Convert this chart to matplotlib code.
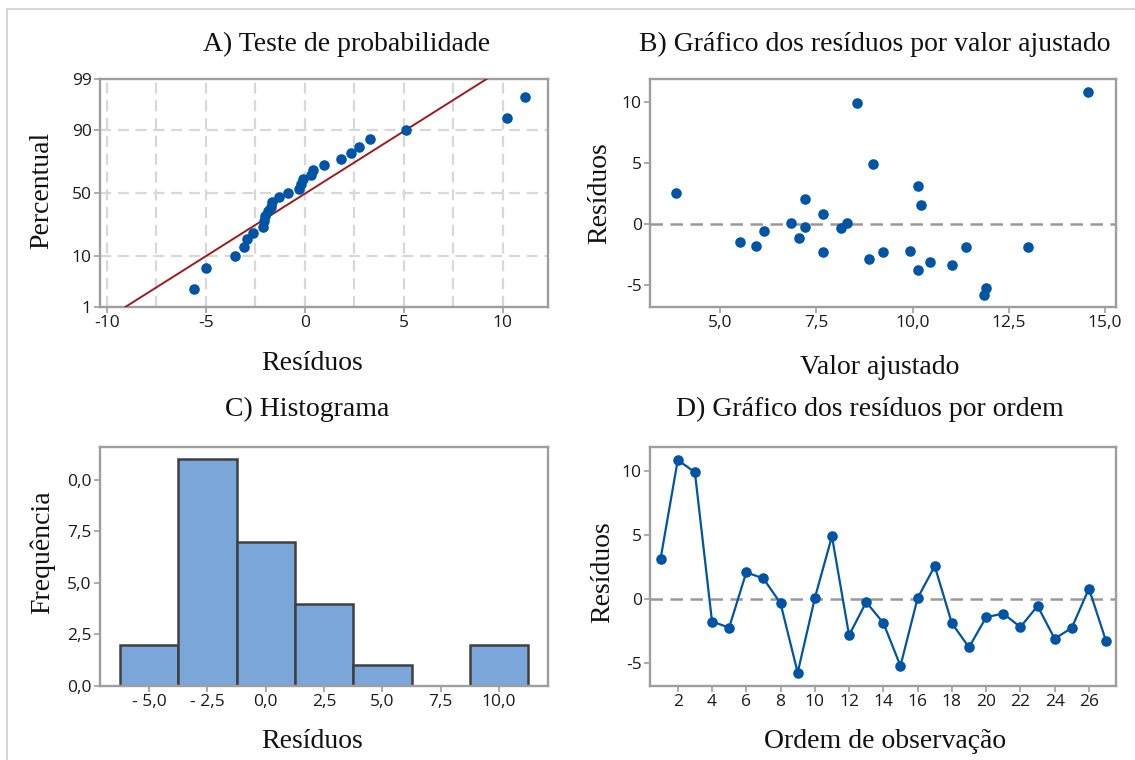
import numpy as np
import matplotlib
matplotlib.use("Agg")
import matplotlib.pyplot as plt
from matplotlib.lines import Line2D
from statistics import NormalDist

# ---------------- data ----------------
# A) residuals as placed on the normal probability plot
prob_residuals = [-5.6, -5.0, -3.5, -3.09, -2.91, -2.6, -2.09, -2.04, -2.0,
                  -1.84, -1.69, -1.64, -1.29, -0.87, -0.27, -0.18, -0.09,
                  0.31, 0.4, 1.0, 1.82, 2.33, 2.73, 3.31, 5.13, 10.24, 11.13]

# B / D) residuals in observation order and their fitted values
observation = list(range(1, 28))
residuals = [3.16, 10.85, 9.9, -1.76, -2.23, 2.08, 1.61, -0.34, -5.75,
             0.07, 4.9, -2.83, -0.24, -1.87, -5.22, 0.07, 2.57, -1.89,
             -3.77, -1.42, -1.13, -2.19, -0.54, -3.1, -2.25, 0.82, -3.29]
fitted = [10.15, 14.56, 8.56, 5.92, 7.67, 7.21, 10.21, 8.14, 11.86,
          6.85, 8.97, 8.86, 7.21, 11.39, 11.92, 8.29, 3.84, 12.99,
          10.15, 5.50, 7.04, 9.94, 6.13, 10.46, 9.22, 7.67, 11.03]

# C) histogram
bin_centers = [-5.0, -2.5, 0.0, 2.5, 5.0, 7.5, 10.0]
bin_counts = [2, 11, 7, 4, 1, 0, 2]
hist_tick_labels = ["- 5,0", "- 2,5", "0,0", "2,5", "5,0", "7,5", "10,0"]
freq_tick_labels = ["0,0", "2,5", "5,0", "7,5", "0,0"]
fit_tick_labels = ["5,0", "7,5", "10,0", "12,5", "15,0"]
pct_ticks = [1, 10, 50, 90, 99]

# ---------------- style ----------------
SERIF = "Liberation Serif"
SANS = "Open Sans"
BLUE = "#0054A6"
RED = "#9E1A1E"
SPINE = "#9E9E9E"
GRID = "#D8D8D8"
BAR = "#7BA6D9"

plt.rcParams["font.family"] = SANS

fig = plt.figure(figsize=(11.35, 7.6), dpi=100)


def box(l, t, r, b):
    W, H = 1135.0, 760.0
    return [l / W, (H - b) / H, (r - l) / W, (b - t) / H]


def style(ax):
    for s in ax.spines.values():
        s.set_color(SPINE)
        s.set_linewidth(1.7)
    ax.tick_params(color=SPINE, length=4, width=1.2, labelsize=12.5,
                   labelcolor="#1a1a1a", pad=2)


def label(x, y, s, rot=0):
    fig.text(x / 1135, 1 - y / 760, s, family=SERIF, fontsize=20,
             ha="center", va="center", rotation=rot, color="#111111")


# normal probability scale
_nd = NormalDist()
_fwd = np.vectorize(lambda p: _nd.inv_cdf(min(max(p / 100.0, 1e-9), 1 - 1e-9)),
                    otypes=[float])
_inv = np.vectorize(lambda z: _nd.cdf(z) * 100.0, otypes=[float])

# ---------------- A) probability plot ----------------
axA = fig.add_axes(box(100, 79, 548, 307))
style(axA)
axA.set_yscale("function", functions=(_fwd, _inv))
x = np.sort(np.array(prob_residuals))
n = len(x)
pct = (np.arange(1, n + 1) - 0.3) / (n + 0.4) * 100
mu, sd = x.mean(), x.std(ddof=1)
p_line = np.array([1.0, 99.0])
axA.plot(mu + sd * _fwd(p_line), p_line, color=RED, lw=1.4, zorder=3)
axA.plot(x, pct, "o", color=BLUE, ms=6.6, zorder=4)
axA.set_xlim(-10.35, 12.3)
axA.set_ylim(1, 99)
axA.set_yticks(pct_ticks)
axA.set_yticklabels([str(t) for t in pct_ticks])
axA.yaxis.set_minor_locator(matplotlib.ticker.NullLocator())
axA.set_xticks([-10, -5, 0, 5, 10])
axA.set_xticklabels(["-10", "-5", "0", "5", "10"])
for gx in np.arange(-10, 12.5, 2.5):
    axA.axvline(gx, color=GRID, lw=1.6, ls=(0, (5, 3)), zorder=1)
for gy in [10, 50, 90]:
    axA.axhline(gy, color=GRID, lw=1.6, ls=(0, (5, 3)), zorder=1)

# ---------------- B) residuals vs fitted ----------------
axB = fig.add_axes(box(650, 79, 1116, 307))
style(axB)
axB.axhline(0, color="#999999", lw=1.8, ls=(0, (5, 3)), zorder=1)
axB.plot(fitted, residuals, "o", color=BLUE, ms=6.6, zorder=3)
axB.set_xlim(3.17, 15.29)
axB.set_ylim(-6.77, 11.9)
axB.set_xticks([5, 7.5, 10, 12.5, 15])
axB.set_xticklabels(fit_tick_labels)
axB.set_yticks([-5, 0, 5, 10])
axB.set_yticklabels(["-5", "0", "5", "10"])

# ---------------- C) histogram ----------------
axC = fig.add_axes(box(100, 447, 548, 686))
style(axC)
axC.bar(bin_centers, bin_counts, width=2.5, color=BAR, edgecolor="#404040",
        linewidth=1.8, zorder=2)
axC.set_xlim(-7.1, 12.1)
axC.set_ylim(0, 11.6)
axC.set_xticks(bin_centers)
axC.set_xticklabels(hist_tick_labels)
axC.set_yticks([0, 2.5, 5, 7.5, 10])
axC.set_yticklabels(freq_tick_labels)

# ---------------- D) residuals vs order ----------------
axD = fig.add_axes(box(650, 447, 1116, 686))
style(axD)
axD.axhline(0, color="#999999", lw=1.8, ls=(0, (5, 3)), zorder=1)
axD.plot(observation, residuals, "-o", color=BLUE, lw=1.6, ms=6.6, zorder=3)
axD.set_xlim(0.38, 27.58)
axD.set_ylim(-6.79, 11.87)
axD.set_xticks(range(2, 27, 2))
axD.set_yticks([-5, 0, 5, 10])
axD.set_yticklabels(["-5", "0", "5", "10"])

# ---------------- titles / labels ----------------
label(347, 44, "A) Teste de probabilidade")
label(875, 44, "B) Gráfico dos resíduos por valor ajustado")
label(307, 409, "C) Histograma")
label(870, 409, "D) Gráfico dos resíduos por ordem")
label(42, 190, "Percentual", rot=90)
label(312, 363, "Resíduos")
label(600, 193, "Resíduos", rot=90)
label(880, 367, "Valor ajustado")
label(42, 552, "Frequência", rot=90)
label(312, 742, "Resíduos")
label(603, 572, "Resíduos", rot=90)
label(885, 742, "Ordem de observação")

# light page border (top and left)
fig.add_artist(Line2D([7 / 1135, 1], [1 - 9 / 760] * 2, color="#D0D0D0", lw=1.2,
                      transform=fig.transFigure))
fig.add_artist(Line2D([7 / 1135] * 2, [0, 1 - 9 / 760], color="#D0D0D0", lw=1.2,
                      transform=fig.transFigure))

fig.savefig("out.png", dpi=100)
